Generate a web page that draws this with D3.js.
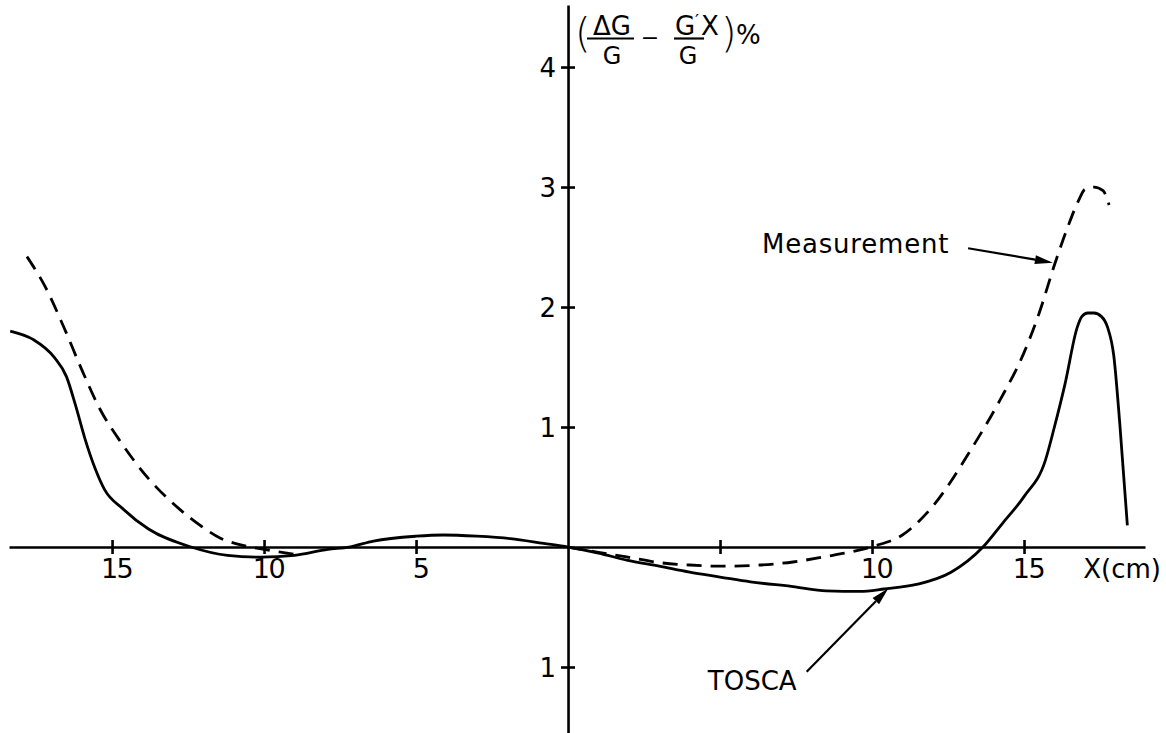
<!DOCTYPE html>
<html><head><meta charset="utf-8">
<script src="https://cdn.jsdelivr.net/npm/d3@7"></script>
<style>
html,body{margin:0;padding:0;background:#fff;}
svg{display:block;background:#fff;}
text{font-family:"DejaVu Sans",sans-serif;fill:#000;}
</style>
</head><body>
<svg id="chart" width="1166" height="733"></svg>
<script>
// ---- data (x in cm, y in %) ----
const xTickValues = [-15, -10, -5, 5, 10, 15];
const xTickLabels = ["15", "10", "5", "", "10", "15"];
const yTickValues = [-1, 1, 2, 3, 4];
const yTickLabels = ["1", "1", "2", "3", "4"];

const toscaX = [-18.35, -17.6, -16.9, -16.5, -16.2, -15.9, -15.55, -15.25, -14.65, -13.8, -12.4, -11.2, -10.1, -9.0, -7.9, -7.2, -6.4, -5.0, -4.1, -3.0, -1.9, -0.8, 0, 1.0, 1.93, 3.0, 4.0, 5.0, 6.0, 7.4, 8.5, 9.6, 10.4, 11.5, 12.6, 13.65, 14.3, 15.0, 15.7, 16.0, 16.35, 16.75, 16.9, 17.1, 17.3, 17.55, 17.75, 17.95, 18.15, 18.4];
const toscaY = [1.80, 1.73, 1.58, 1.42, 1.18, 0.91, 0.65, 0.48, 0.32, 0.15, 0.0, -0.07, -0.085, -0.07, -0.02, 0.0, 0.05, 0.09, 0.10, 0.09, 0.07, 0.03, 0, -0.05, -0.11, -0.16, -0.21, -0.25, -0.29, -0.33, -0.365, -0.37, -0.35, -0.31, -0.21, 0, 0.2, 0.42, 0.72, 1.0, 1.36, 1.83, 1.92, 1.95, 1.95, 1.92, 1.83, 1.6, 1.03, 0.18];

const measurementLeftX = [-17.8, -17.2, -16.6, -16.0, -15.4, -14.7, -13.8, -12.8, -12.1, -11.45, -10.8, -10.0, -9.0];
const measurementLeftY = [2.42, 2.17, 1.84, 1.48, 1.15, 0.87, 0.57, 0.32, 0.18, 0.075, 0.02, -0.02, -0.06];
const measurementRightX = [0, 1.0, 1.93, 3.0, 4.0, 5.0, 6.3, 7.4, 8.5, 9.5, 10.1, 11.0, 11.9, 13.3, 14.2, 15.0, 15.5, 16.0, 16.4, 16.8, 17.0, 17.3, 17.6, 17.8];
const measurementRightY = [0, -0.045, -0.083, -0.13, -0.15, -0.16, -0.15, -0.125, -0.078, -0.03, 0.01, 0.1, 0.31, 0.83, 1.22, 1.62, 1.95, 2.35, 2.64, 2.89, 2.98, 3.0, 2.97, 2.85];

// annotation anchors in data units: [textX, textY, arrowFromX, arrowFromY, arrowToX, arrowToY]
const annotationLabels = ["Measurement", "TOSCA"];
const annotationAnchors = [
  [6.38, 2.45, 13.16, 2.49, 15.95, 2.37],
  [4.6, -1.19, 7.85, -1.04, 10.54, -0.344]
];

// ---- drawing ----
const svg = d3.select("#chart");
const x = d3.scaleLinear().domain([-18.39, 18.98]).range([9, 1145]);
const y = d3.scaleLinear().domain([-1.55, 4.517]).range([733, 5]);
const FONT = '"DejaVu Sans", sans-serif';

// x axis
const xAxis = d3.axisBottom(x)
  .tickValues(xTickValues)
  .tickFormat((d, i) => xTickLabels[i])
  .tickSizeInner(7).tickSizeOuter(0);
const gx = svg.append("g")
  .attr("transform", `translate(0,${y(0)})`)
  .call(xAxis)
  .attr("font-family", FONT).attr("font-size", 27);
gx.select(".domain").attr("stroke", "#000").attr("stroke-width", 2.6);
gx.selectAll(".tick line").attr("y1", -7).attr("y2", 7).attr("stroke", "#000").attr("stroke-width", 2.6);
gx.selectAll(".tick text").attr("y", 31).attr("dy", 0).attr("dx", 4).attr("letter-spacing", -1.5).attr("fill", "#000");

// x axis unit label
svg.append("text")
  .attr("x", x(18.98) + 16).attr("y", y(0) + 31)
  .attr("text-anchor", "end")
  .attr("font-size", 26)
  .text("X(cm)");

// y axis
const yAxis = d3.axisLeft(y)
  .tickValues(yTickValues)
  .tickFormat((d, i) => yTickLabels[i])
  .tickSizeInner(7).tickSizeOuter(0);
const gy = svg.append("g")
  .attr("transform", `translate(${x(0)},0)`)
  .call(yAxis)
  .attr("font-family", FONT).attr("font-size", 26);
gy.select(".domain").attr("stroke", "#000").attr("stroke-width", 2.6);
gy.selectAll(".tick line").attr("x1", 7).attr("x2", -7).attr("stroke", "#000").attr("stroke-width", 2.6);
gy.selectAll(".tick text").attr("x", -12).attr("dy", "0.36em").attr("fill", "#000");

// y axis label: ( ΔG/G − G′X/G )%
const ox = x(0);
const label = svg.append("text").attr("font-family", FONT);
const parts = [
  {t: "(", dx: 7, yy: 47, fs: 40, w: 300, a: "start"},
  {t: "ΔG", dx: 44, yy: 35, fs: 26, a: "middle"},
  {t: "G", dx: 44, yy: 64, fs: 24, a: "middle"},
  {t: "−", dx: 82, yy: 45, fs: 22, a: "middle"},
  {t: "G", dx: 107, yy: 35, fs: 26, a: "start"},
  {t: "′", dx: 127, yy: 27, fs: 18, a: "start"},
  {t: "X", dx: 133, yy: 35, fs: 26, a: "start"},
  {t: "G", dx: 120, yy: 64, fs: 24, a: "middle"},
  {t: ")", dx: 153, yy: 47, fs: 40, w: 300, a: "start"},
  {t: "%", dx: 168, yy: 44, fs: 26, a: "start"}
];
parts.forEach(p => {
  label.append("tspan")
    .attr("x", ox + p.dx).attr("y", p.yy)
    .attr("font-size", p.fs)
    .attr("font-weight", p.w || 400)
    .attr("text-anchor", p.a)
    .text(p.t);
});
svg.append("line").attr("x1", ox + 19).attr("x2", ox + 66).attr("y1", 38.5).attr("y2", 38.5).attr("stroke", "#000").attr("stroke-width", 2.2);
svg.append("line").attr("x1", ox + 106).attr("x2", ox + 136).attr("y1", 38.5).attr("y2", 38.5).attr("stroke", "#000").attr("stroke-width", 2.2);

// curves
const line = d3.line()
  .x(d => x(d[0])).y(d => y(d[1]))
  .curve(d3.curveMonotoneX);

const tosca = toscaX.map((v, i) => [v, toscaY[i]]);
const measLeft = measurementLeftX.map((v, i) => [v, measurementLeftY[i]]);
const measRight = measurementRightX.map((v, i) => [v, measurementRightY[i]]);

svg.append("path").datum(tosca).attr("d", line)
  .attr("fill", "none").attr("stroke", "#000").attr("stroke-width", 2.8).attr("stroke-linejoin", "round");
[measLeft, measRight].forEach(seg => {
  svg.append("path").datum(seg).attr("d", line)
    .attr("fill", "none").attr("stroke", "#000").attr("stroke-width", 2.8)
    .attr("stroke-dasharray", "15,9");
});

// annotations
annotationLabels.forEach((lbl, i) => {
  const a = annotationAnchors[i];
  svg.append("text")
    .attr("x", x(a[0])).attr("y", y(a[1]))
    .attr("font-size", 26)
    .attr("letter-spacing", i === 0 ? 0.8 : 0)
    .text(lbl);
  const x1 = x(a[2]), y1 = y(a[3]), x2 = x(a[4]), y2 = y(a[5]);
  const ang = Math.atan2(y2 - y1, x2 - x1);
  const L = 18, Wd = 4.5;
  const bx = x2 - L * Math.cos(ang), by = y2 - L * Math.sin(ang);
  svg.append("line").attr("x1", x1).attr("y1", y1).attr("x2", bx).attr("y2", by)
    .attr("stroke", "#000").attr("stroke-width", 2.2);
  const px = -Math.sin(ang), py = Math.cos(ang);
  svg.append("path")
    .attr("d", `M${x2},${y2}L${bx + px * Wd},${by + py * Wd}L${bx - px * Wd},${by - py * Wd}Z`)
    .attr("fill", "#000");
});
</script>
</body></html>
